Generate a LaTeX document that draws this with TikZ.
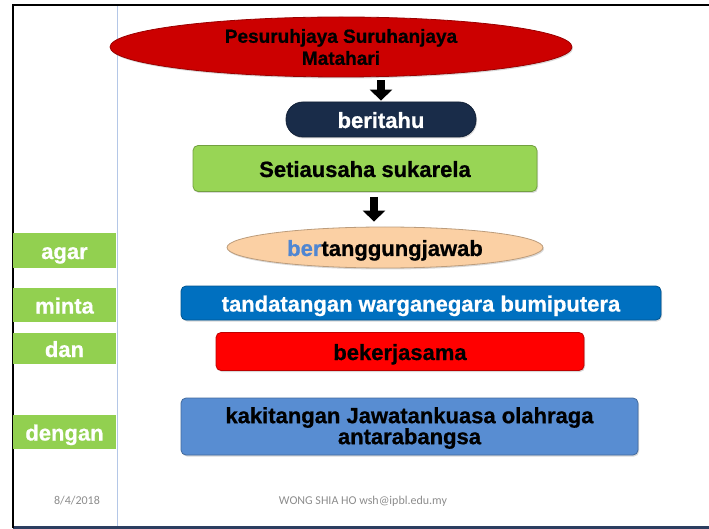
\documentclass[tikz,border=0pt]{standalone}
\usepackage{fontspec}
\setmainfont[BoldFeatures={FakeBold=0.8}]{Liberation Sans}
\newfontfamily\footfont{Carlito}
\usetikzlibrary{
    arrows.meta,
    shapes,
    shadows,
    calc,
    positioning
}
\definecolor{merah}{RGB}{204,0,0}
\definecolor{merahterang}{RGB}{255,0,0}
\definecolor{biru}{RGB}{0,112,192}
\definecolor{birulembut}{RGB}{88,141,210}
\definecolor{navy}{RGB}{25,44,73}
\definecolor{hijau}{RGB}{152,213,85}
\definecolor{hijaulabel}{RGB}{146,208,80}
\definecolor{pic}{RGB}{251,208,164}
\definecolor{berbiru}{RGB}{79,134,210}
\definecolor{garisbiru}{RGB}{180,199,231}
\definecolor{garisbawah}{RGB}{44,62,96}
\definecolor{kelabu}{RGB}{140,140,140}
\tikzset{bx/.style={rectangle, rounded corners=5pt, draw=#1!75!black, fill=#1, line width=0.8pt, inner sep=0pt,
                    drop shadow={opacity=0.3, shadow xshift=1pt, shadow yshift=-1.5pt},
                    align=center, font=\bfseries\fontsize{22}{20}\selectfont},
         satu/.style={text height=17pt, text depth=0pt},
         lbl/.style={rectangle, satu, fill=hijaulabel, text=white, inner sep=0pt, minimum width=103pt,
                     font=\bfseries\fontsize{22}{20}\selectfont},
         blk/.style={line width=8pt, -{Triangle[width=22pt, length=11pt]}}}

\begin{document}
\begin{tikzpicture}[x=1pt, y=-1pt]
                        \useasboundingbox (0, 0) rectangle (709, 529);
                        \draw[garisbiru, line width=1pt] (117, 5) -- (117, 526);
                        \draw[garisbawah, line width=3pt] (13, 527) -- (709, 527);
                        \draw[line width=2.5pt] (13, 528) -- (13, 5) -- (709, 5);

                        \node[bx=merah, ellipse, minimum width=462pt, minimum height=60pt,
                              font=\bfseries\fontsize{19}{22}\selectfont] (pes) at (341, 47)
                              {Pesuruhjaya Suruhanjaya\\Matahari};
                        \node[bx=navy, satu, rounded corners=17pt, minimum width=190pt, minimum height=35pt, text=white]
                              (ber) at (381, 119.5) {beritahu};
                        \node[bx=hijau, satu, minimum width=344pt, minimum height=46pt] (set) at (365, 168.5) {Setiausaha sukarela};
                        \node[bx=pic, satu, ellipse, minimum width=316pt, minimum height=41pt] (tgj) at (385, 247.5)
                              {\textcolor{berbiru}{ber}tanggungjawab};
                        \node[bx=biru, satu, minimum width=480pt, minimum height=34pt, text=white] (tdt) at (421, 303)
                              {tandatangan warganegara bumiputera};
                        \node[bx=merahterang, satu, minimum width=368pt, minimum height=38pt] (kjs) at (400, 351.5) {bekerjasama};
                        \node[bx=birulembut, minimum width=457pt, minimum height=57pt,
                              font=\bfseries\fontsize{22}{21}\selectfont] (kkt) at (409.5, 426.5)
                              {\rule{0pt}{19pt}kakitangan Jawatankuasa olahraga\\antarabangsa};

                        \draw[blk, shorten <=3pt, shorten >=1pt] (pes.south -| ber.north) -- (ber.north);
                        \draw[blk, shorten <=5pt, shorten >=5pt] ([xshift=9pt]set.south) -- ([xshift=9pt]set.south |- tgj.north);

                        \node[lbl, minimum height=35pt] (agar) at (64.5, 250.5) {agar};
                        \node[lbl, minimum height=34pt] (minta) at (64.5, 305) {minta};
                        \node[lbl, minimum height=31pt] (dan) at (64.5, 348.5) {dan};
                        \node[lbl, minimum height=34pt] (dengan) at (64.5, 432) {dengan};

                        \node[text=kelabu, font=\footfont\fontsize{12}{14}\selectfont] (tarikh) at (77, 501) {8/4/2018};
                        \node[text=kelabu, font=\footfont\fontsize{12}{14}\selectfont] (nama) at (363, 501)
                              {WONG SHIA HO wsh@ipbl.edu.my};
                    \end{tikzpicture}
\end{document}
